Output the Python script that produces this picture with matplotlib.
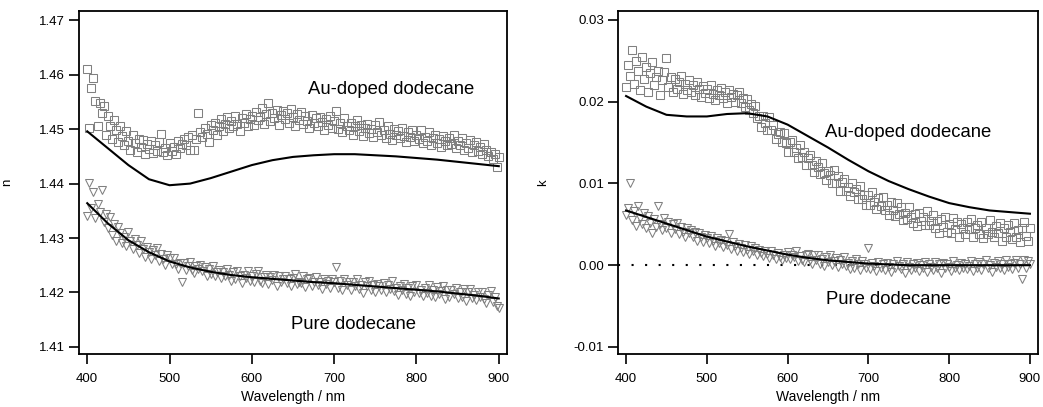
import matplotlib
matplotlib.use("Agg")
import matplotlib.pyplot as plt

plt.rcParams['font.family'] = ['Liberation Sans', 'DejaVu Sans']

# ---------------- data ----------------
# measured points every 2.5 nm from 400 to 900 nm
wl_pts = [400 + 2.5 * i for i in range(201)]
# fitted curves every 25 nm
wl_fit = list(range(400, 901, 25))

n_au = [
    1.4610, 1.4502, 1.4575, 1.4594, 1.4551, 1.4505, 1.4548, 1.4530,
    1.4542, 1.4490, 1.4525, 1.4505, 1.4482, 1.4516, 1.4498, 1.4476,
    1.4505, 1.4488, 1.4470, 1.4496, 1.4478, 1.4462, 1.4490, 1.4475,
    1.4458, 1.4482, 1.4468, 1.4480, 1.4455, 1.4472, 1.4463, 1.4478,
    1.4456, 1.4470, 1.4460, 1.4476, 1.4492, 1.4458, 1.4466, 1.4452,
    1.4474, 1.4460, 1.4468, 1.4455, 1.4478, 1.4465, 1.4472, 1.4482,
    1.4470, 1.4485, 1.4462, 1.4490, 1.4461, 1.4482, 1.4529, 1.4494,
    1.4485, 1.4502, 1.4492, 1.4476, 1.4508, 1.4498, 1.4512, 1.4490,
    1.4505, 1.4518, 1.4496, 1.4510, 1.4522, 1.4502, 1.4515, 1.4506,
    1.4524, 1.4510, 1.4497, 1.4520, 1.4512, 1.4528, 1.4506, 1.4519,
    1.4525, 1.4508, 1.4532, 1.4516, 1.4522, 1.4538, 1.4510, 1.4527,
    1.4548, 1.4515, 1.4530, 1.4520, 1.4536, 1.4508, 1.4526, 1.4533,
    1.4518, 1.4530, 1.4512, 1.4537, 1.4522, 1.4505, 1.4528, 1.4517,
    1.4532, 1.4510, 1.4524, 1.4515, 1.4502, 1.4526, 1.4512, 1.4520,
    1.4506, 1.4523, 1.4514, 1.4498, 1.4518, 1.4508, 1.4525, 1.4502,
    1.4515, 1.4533, 1.4500, 1.4512, 1.4495, 1.4520, 1.4506, 1.4498,
    1.4512, 1.4490, 1.4505, 1.4517, 1.4496, 1.4508, 1.4488, 1.4502,
    1.4510, 1.4493, 1.4500, 1.4486, 1.4507, 1.4495, 1.4513, 1.4489,
    1.4498, 1.4484, 1.4505, 1.4492, 1.4480, 1.4500, 1.4490, 1.4496,
    1.4483, 1.4502, 1.4488, 1.4476, 1.4495, 1.4485, 1.4499, 1.4478,
    1.4490, 1.4482, 1.4498, 1.4474, 1.4486, 1.4479, 1.4494, 1.4471,
    1.4484, 1.4490, 1.4475, 1.4482, 1.4468, 1.4487, 1.4478, 1.4470,
    1.4483, 1.4472, 1.4489, 1.4465, 1.4478, 1.4470, 1.4484, 1.4461,
    1.4474, 1.4466, 1.4480, 1.4458, 1.4470, 1.4476, 1.4460, 1.4468,
    1.4455, 1.4472, 1.4462, 1.4450, 1.4458, 1.4445, 1.4455, 1.4430,
    1.4448]

n_pure = [
    1.4340, 1.4402, 1.4355, 1.4385, 1.4336, 1.4362, 1.4348, 1.4388,
    1.4330, 1.4345, 1.4318, 1.4338, 1.4305, 1.4326, 1.4295, 1.4320,
    1.4310, 1.4290, 1.4302, 1.4285, 1.4312, 1.4295, 1.4280, 1.4298,
    1.4288, 1.4272, 1.4294, 1.4280, 1.4266, 1.4284, 1.4275, 1.4262,
    1.4278, 1.4268, 1.4282, 1.4258, 1.4270, 1.4262, 1.4250, 1.4268,
    1.4263, 1.4252, 1.4264, 1.4253, 1.4244, 1.4254, 1.4219, 1.4254,
    1.4241, 1.4249, 1.4256, 1.4242, 1.4236, 1.4249, 1.4243, 1.4250,
    1.4239, 1.4247, 1.4230, 1.4243, 1.4234, 1.4249, 1.4230, 1.4238,
    1.4242, 1.4226, 1.4238, 1.4230, 1.4243, 1.4232, 1.4222, 1.4237,
    1.4225, 1.4239, 1.4230, 1.4218, 1.4233, 1.4226, 1.4239, 1.4221,
    1.4231, 1.4220, 1.4234, 1.4239, 1.4222, 1.4217, 1.4228, 1.4233,
    1.4216, 1.4229, 1.4223, 1.4233, 1.4212, 1.4230, 1.4220, 1.4224,
    1.4231, 1.4217, 1.4225, 1.4212, 1.4227, 1.4234, 1.4215, 1.4220,
    1.4217, 1.4230, 1.4210, 1.4224, 1.4226, 1.4212, 1.4219, 1.4229,
    1.4213, 1.4220, 1.4207, 1.4225, 1.4215, 1.4222, 1.4208, 1.4225,
    1.4219, 1.4247, 1.4209, 1.4221, 1.4205, 1.4225, 1.4213, 1.4219,
    1.4204, 1.4220, 1.4211, 1.4224, 1.4207, 1.4214, 1.4199, 1.4219,
    1.4211, 1.4221, 1.4204, 1.4214, 1.4200, 1.4216, 1.4211, 1.4205,
    1.4218, 1.4201, 1.4214, 1.4206, 1.4221, 1.4202, 1.4208, 1.4196,
    1.4212, 1.4205, 1.4216, 1.4198, 1.4208, 1.4194, 1.4212, 1.4201,
    1.4214, 1.4199, 1.4205, 1.4193, 1.4208, 1.4199, 1.4214, 1.4194,
    1.4205, 1.4192, 1.4210, 1.4197, 1.4202, 1.4211, 1.4188, 1.4205,
    1.4192, 1.4205, 1.4197, 1.4209, 1.4189, 1.4200, 1.4192, 1.4206,
    1.4185, 1.4200, 1.4206, 1.4190, 1.4195, 1.4186, 1.4201, 1.4191,
    1.4201, 1.4188, 1.4180, 1.4195, 1.4203, 1.4183, 1.4191, 1.4176,
    1.4172]

k_au = [
    0.0218, 0.0245, 0.0232, 0.0263, 0.0222, 0.0250, 0.0238, 0.0214,
    0.0255, 0.0228, 0.0242, 0.0212, 0.0235, 0.0248, 0.0220, 0.0230,
    0.0238, 0.0208, 0.0226, 0.0236, 0.0253, 0.0218, 0.0230, 0.0212,
    0.0228, 0.0215, 0.0224, 0.0232, 0.0210, 0.0222, 0.0214, 0.0226,
    0.0212, 0.0220, 0.0208, 0.0224, 0.0215, 0.0206, 0.0219, 0.0211,
    0.0216, 0.0205, 0.0220, 0.0210, 0.0202, 0.0214, 0.0208, 0.0217,
    0.0204, 0.0212, 0.0199, 0.0214, 0.0206, 0.0210, 0.0200, 0.0208,
    0.0212, 0.0198, 0.0205, 0.0194, 0.0203, 0.0190, 0.0197, 0.0186,
    0.0195, 0.0180, 0.0183, 0.0169, 0.0182, 0.0174, 0.0165, 0.0181,
    0.0165, 0.0172, 0.0154, 0.0161, 0.0163, 0.0151, 0.0162, 0.0150,
    0.0139, 0.0151, 0.0153, 0.0139, 0.0143, 0.0131, 0.0147, 0.0132,
    0.0138, 0.0122, 0.0131, 0.0135, 0.0122, 0.0114, 0.0128, 0.0120,
    0.0112, 0.0125, 0.0113, 0.0104, 0.0115, 0.0110, 0.0101, 0.0116,
    0.0100, 0.0109, 0.0091, 0.0102, 0.0106, 0.0091, 0.0096, 0.0085,
    0.0100, 0.0089, 0.0093, 0.0081, 0.0097, 0.0081, 0.0086, 0.0074,
    0.0086, 0.0074, 0.0090, 0.0077, 0.0069, 0.0082, 0.0072, 0.0083,
    0.0067, 0.0074, 0.0061, 0.0077, 0.0068, 0.0060, 0.0076, 0.0063,
    0.0071, 0.0055, 0.0064, 0.0057, 0.0071, 0.0059, 0.0052, 0.0063,
    0.0048, 0.0064, 0.0054, 0.0059, 0.0049, 0.0066, 0.0049, 0.0054,
    0.0061, 0.0046, 0.0054, 0.0040, 0.0056, 0.0047, 0.0059, 0.0041,
    0.0051, 0.0040, 0.0058, 0.0044, 0.0053, 0.0035, 0.0050, 0.0045,
    0.0038, 0.0053, 0.0044, 0.0056, 0.0035, 0.0046, 0.0049, 0.0038,
    0.0053, 0.0033, 0.0046, 0.0038, 0.0055, 0.0041, 0.0034, 0.0048,
    0.0039, 0.0052, 0.0030, 0.0046, 0.0035, 0.0049, 0.0041, 0.0032,
    0.0052, 0.0034, 0.0043, 0.0028, 0.0046, 0.0053, 0.0036, 0.0030,
    0.0045]

k_pure = [
    0.0062, 0.0070, 0.0100, 0.0055, 0.0066, 0.0048, 0.0072, 0.0058,
    0.0050, 0.0064, 0.0045, 0.0060, 0.0052, 0.0040, 0.0057, 0.0047,
    0.0072, 0.0050, 0.0043, 0.0058, 0.0046, 0.0053, 0.0040, 0.0050,
    0.0044, 0.0052, 0.0038, 0.0047, 0.0041, 0.0035, 0.0046, 0.0039,
    0.0043, 0.0034, 0.0041, 0.0030, 0.0039, 0.0035, 0.0028, 0.0037,
    0.0033, 0.0027, 0.0036, 0.0030, 0.0024, 0.0033, 0.0027, 0.0031,
    0.0022, 0.0030, 0.0025, 0.0038, 0.0020, 0.0028, 0.0023, 0.0018,
    0.0026, 0.0021, 0.0016, 0.0025, 0.0019, 0.0014, 0.0023, 0.0018,
    0.0021, 0.0013, 0.0019, 0.0015, 0.0011, 0.0018, 0.0014, 0.0009,
    0.0017, 0.0012, 0.0008, 0.0015, 0.0010, 0.0006, 0.0013, 0.0009,
    0.0016, 0.0008, 0.0013, 0.0010, 0.0017, 0.0005, 0.0011, 0.0006,
    0.0004, 0.0012, 0.0014, 0.0006, 0.0001, 0.0012, 0.0007, 0.0013,
    0.0002, 0.0008, -0.0001, 0.0010, 0.0004, 0.0012, 0.0000, 0.0005,
    0.0009, -0.0002, 0.0006, 0.0001, 0.0010, -0.0001, 0.0003, -0.0005,
    0.0005, -0.0003, 0.0008, 0.0001, -0.0006, 0.0005, 0.0002, -0.0003,
    0.0021, -0.0005, 0.0003, -0.0001, -0.0007, 0.0004, -0.0003, 0.0001,
    -0.0006, 0.0003, -0.0002, -0.0008, 0.0002, -0.0004, 0.0005, -0.0001,
    -0.0005, 0.0001, -0.0009, 0.0004, -0.0002, -0.0006, 0.0002, -0.0003,
    0.0003, -0.0007, 0.0000, -0.0004, 0.0004, -0.0008, 0.0001, -0.0002,
    -0.0006, 0.0004, -0.0003, 0.0001, -0.0009, 0.0003, -0.0004, 0.0002,
    -0.0002, -0.0007, 0.0005, -0.0003, 0.0000, -0.0006, 0.0003, -0.0004,
    0.0002, -0.0005, -0.0001, 0.0005, -0.0007, 0.0001, -0.0003, 0.0004,
    -0.0006, 0.0002, 0.0006, -0.0004, 0.0000, -0.0008, 0.0003, -0.0002,
    0.0005, -0.0003, 0.0001, -0.0006, 0.0007, -0.0002, 0.0002, -0.0005,
    0.0003, 0.0007, -0.0004, 0.0001, -0.0017, 0.0006, -0.0003, 0.0005,
    0.0002]

n_au_fit = [1.4496, 1.4465, 1.4434, 1.4408, 1.4397, 1.4400, 1.4410, 1.4422, 1.4434, 1.4443,
            1.4449, 1.4452, 1.4454, 1.4454, 1.4452, 1.4450, 1.4447, 1.4444, 1.4440, 1.4436,
            1.4432]
n_pure_fit = [1.4364, 1.4327, 1.4296, 1.4274, 1.4257, 1.4246, 1.4238, 1.4232, 1.4228, 1.4225,
              1.4222, 1.4219, 1.4217, 1.4214, 1.4211, 1.4208, 1.4205, 1.4202, 1.4198, 1.4194,
              1.4189]
k_au_fit = [0.0207, 0.0194, 0.0184, 0.0182, 0.0182, 0.0185, 0.0186, 0.0182, 0.0172, 0.0158,
            0.0144, 0.0129, 0.0115, 0.0103, 0.0093, 0.0084, 0.0076, 0.0071, 0.0067, 0.0065,
            0.0063]
k_pure_fit = [0.0067, 0.0059, 0.0051, 0.0043, 0.0035, 0.0029, 0.0023, 0.0018, 0.0013, 0.0009,
              0.0006, 0.0004, 0.0002, 0.0001, 0.0000, 0.0000, 0.0000, 0.0000, 0.0000, 0.0000,
              0.0000]

n_ticks = [1.41, 1.42, 1.43, 1.44, 1.45, 1.46, 1.47]
k_ticks = [-0.01, 0.00, 0.01, 0.02, 0.03]
x_ticks = [400, 500, 600, 700, 800, 900]

# ---------------- figure ----------------
W, H = 1043, 407
fig = plt.figure(figsize=(W / 100, H / 100), dpi=100)

axL = fig.add_axes([79 / W, (H - 354) / H, (507 - 79) / W, (354 - 11) / H])
axR = fig.add_axes([618 / W, (H - 354) / H, (1038 - 618) / W, (354 - 11) / H])

mk = dict(linestyle='none', markerfacecolor='none', markeredgecolor='#808080',
          markeredgewidth=0.75, markersize=5.8)

def style(ax):
    for s in ax.spines.values():
        s.set_linewidth(1.3)
        s.set_color('black')
    ax.tick_params(axis='both', direction='out', length=7, width=1.2,
                   labelsize=9.5, colors='black', pad=3)
    ax.tick_params(axis='x', pad=6.5)
    ax.set_xlim(390, 910)
    ax.set_xticks(x_ticks)
    ax.set_xlabel('Wavelength / nm', fontsize=10, labelpad=4)

# left panel
axL.plot(wl_pts, n_au, marker='s', **mk)
axL.plot(wl_pts, n_pure, marker='v', **mk)
axL.plot(wl_fit, n_au_fit, color='black', lw=1.5)
axL.plot(wl_fit, n_pure_fit, color='black', lw=1.5)
style(axL)
axL.set_ylim(1.4087, 1.4717)
axL.set_yticks(n_ticks)
axL.set_yticklabels(['%.2f' % v for v in n_ticks])
axL.set_ylabel('n', fontsize=9.5)
axL.yaxis.set_label_coords(-0.155, 0.5)
axL.text(769, 1.4564, 'Au-doped dodecane', fontsize=13.3, ha='center', va='baseline')
axL.text(723, 1.4133, 'Pure dodecane', fontsize=13.3, ha='center', va='baseline')

# right panel
axR.axhline(0.0, color='black', lw=1.5, linestyle=(0, (1, 5.5)))
axR.plot(wl_pts, k_au, marker='s', **mk)
axR.plot(wl_pts, k_pure, marker='v', **mk)
axR.plot(wl_fit, k_au_fit, color='black', lw=1.5)
axR.plot(wl_fit, k_pure_fit, color='black', lw=1.5)
style(axR)
axR.set_ylim(-0.01086, 0.0311)
axR.set_yticks(k_ticks)
axR.set_yticklabels(['%.2f' % v for v in k_ticks])
axR.set_ylabel('k', fontsize=9.5)
axR.yaxis.set_label_coords(-0.164, 0.5)
axR.text(749, 0.0157, 'Au-doped dodecane', fontsize=13.3, ha='center', va='baseline')
axR.text(725, -0.0047, 'Pure dodecane', fontsize=13.3, ha='center', va='baseline')

fig.savefig('out.png', dpi=100)
